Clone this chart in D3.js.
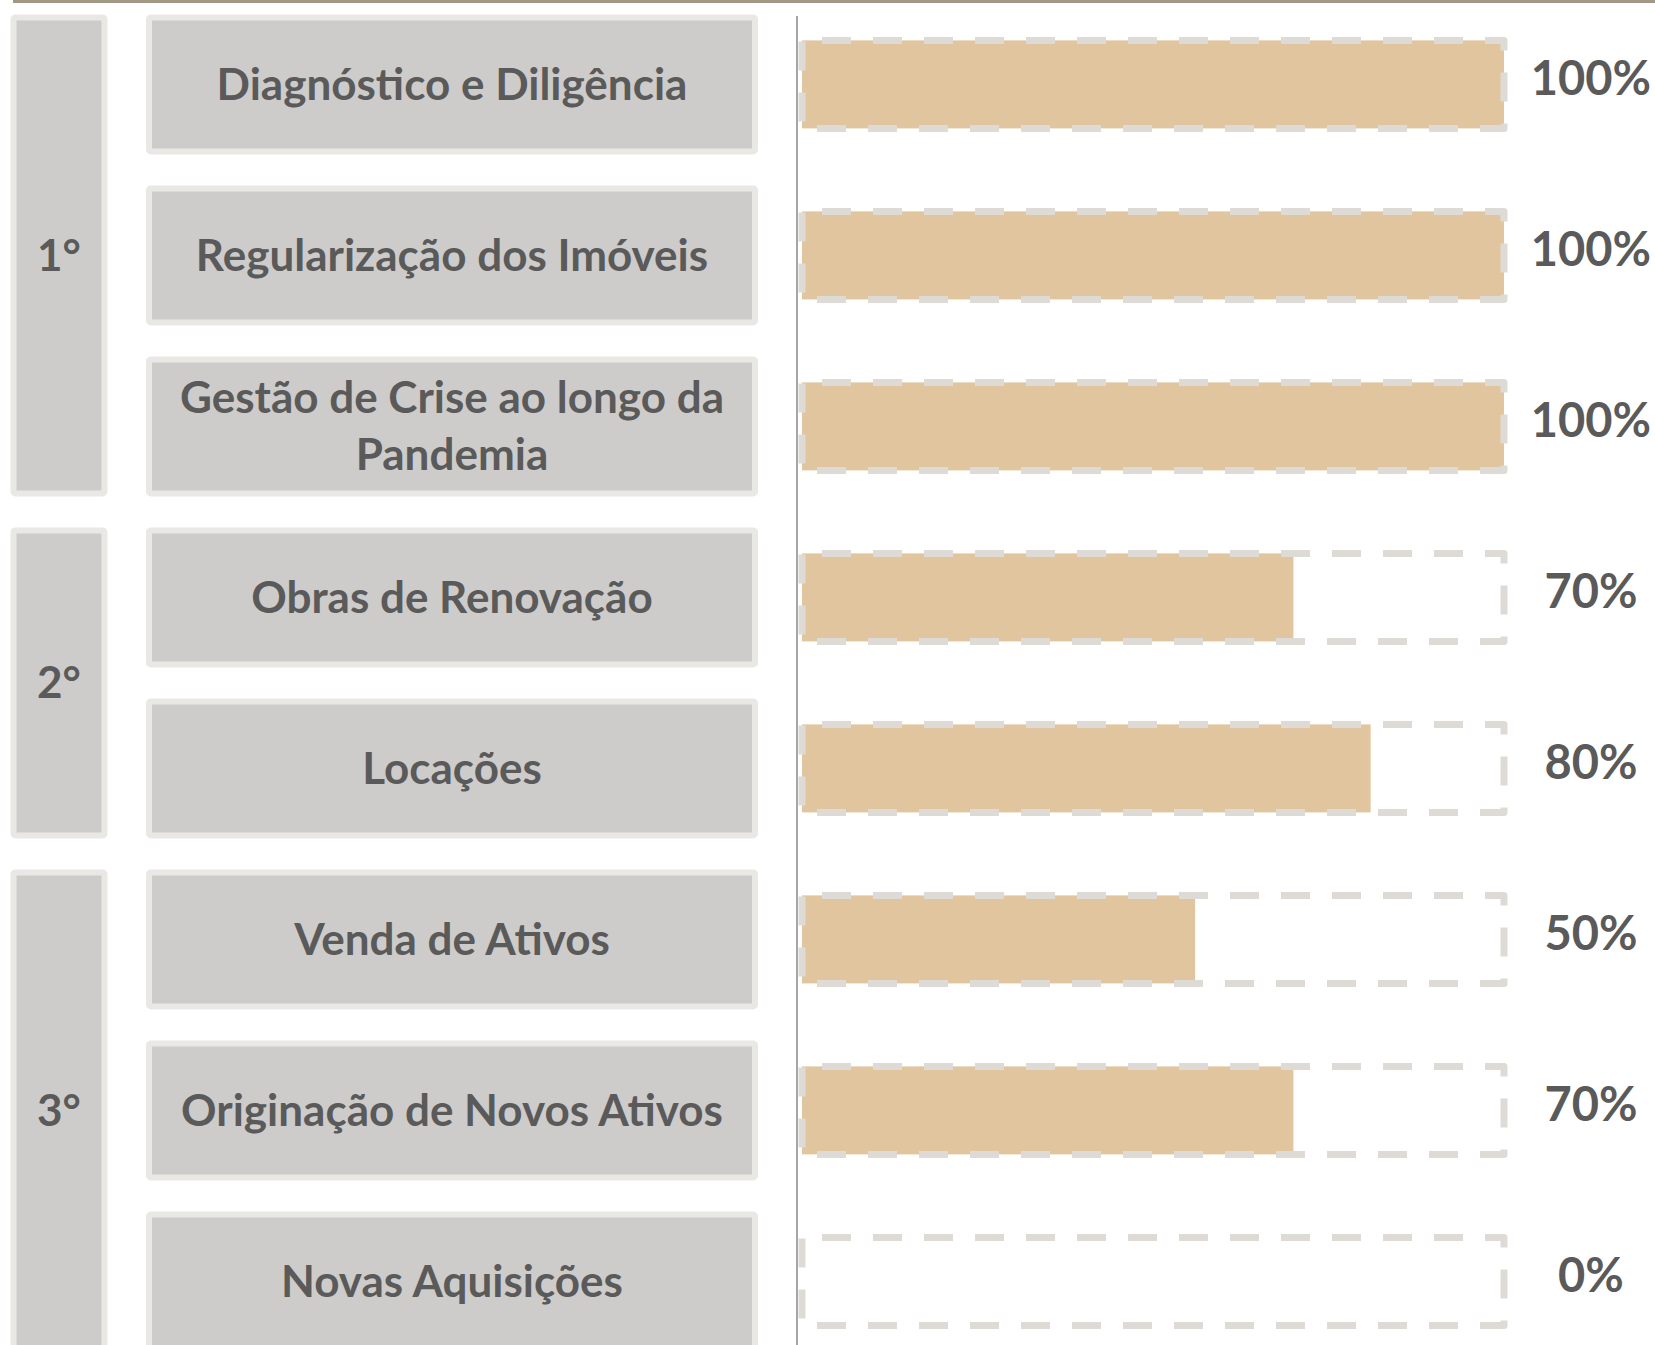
<!DOCTYPE html>
<html>
<head>
<meta charset="utf-8">
<script src="https://cdn.jsdelivr.net/npm/d3@7"></script>
<style>
  body { margin: 0; background: #fff; }
  svg { display: block; }
</style>
</head>
<body>
<svg id="chart"></svg>
<script>
let w = 1655;
let h = 1345;

// data
let categories = [
  "Diagnóstico e Diligência",
  "Regularização dos Imóveis",
  "Gestão de Crise ao longo da Pandemia",
  "Obras de Renovação",
  "Locações",
  "Venda de Ativos",
  "Originação de Novos Ativos",
  "Novas Aquisições"
];
// bar lengths as drawn (in %) and the labels printed next to them
let barValues = [100, 100, 100, 70, 81, 56, 70, 0];
let valueLabels = ["100%", "100%", "100%", "70%", "80%", "50%", "70%", "0%"];
let phases = ["1°", "2°", "3°"];
let phaseSizes = [3, 2, 3];

let textColor = "#5a5a5a";
let boxFill = "#cdcccb";
let boxBorder = "#e9e8e4";
let barFill = "#e1c59f";
let dashColor = "#dedbd6";
let font = "Lato, 'Open Sans', sans-serif";
let fontSize = 44;

let chart1 = d3.select("#chart")
  .attr("width", w)
  .attr("height", h);

let xScale = d3.scaleLinear()
  .domain([0, 100])
  .range([802, 1504]);

let yScale = d3.scalePoint()
  .domain(categories)
  .range([84.4, 84.4 + 7 * 171]);

let boxH = 140;
let barH = 88;

// top rule
chart1.append("rect")
  .attr("x", 13).attr("y", 0)
  .attr("width", w - 13).attr("height", 3)
  .attr("fill", "#a39884");

// phase boxes on the left
let start = 0;
let phaseData = phases.map((p, i) => {
  let first = categories[start];
  let last = categories[start + phaseSizes[i] - 1];
  start += phaseSizes[i];
  return { label: p, y0: yScale(first) - boxH / 2, y1: yScale(last) + boxH / 2 };
});

let phaseG = chart1.append("g").selectAll("g")
  .data(phaseData)
  .join("g");

phaseG.append("rect")
  .attr("x", 13.5)
  .attr("y", d => d.y0 + 3)
  .attr("width", 91)
  .attr("height", d => d.y1 - d.y0 - 6)
  .attr("fill", boxFill)
  .attr("stroke", boxBorder)
  .attr("stroke-width", 6)
  .attr("rx", 2);

phaseG.append("text")
  .attr("x", 59)
  .attr("y", d => (d.y0 + d.y1) / 2)
  .attr("dy", "0.35em")
  .attr("text-anchor", "middle")
  .attr("font-family", font)
  .attr("font-weight", "bold")
  .attr("font-size", fontSize)
  .attr("fill", textColor)
  .text(d => d.label);

// category boxes
let catG = chart1.append("g").selectAll("g")
  .data(categories)
  .join("g");

catG.append("rect")
  .attr("x", 149)
  .attr("y", d => yScale(d) - boxH / 2 + 3)
  .attr("width", 606)
  .attr("height", boxH - 6)
  .attr("fill", boxFill)
  .attr("stroke", boxBorder)
  .attr("stroke-width", 6)
  .attr("rx", 2);

catG.each(function (d) {
  let g = d3.select(this);
  let t = g.append("text")
    .attr("x", 452)
    .attr("text-anchor", "middle")
    .attr("font-family", font)
    .attr("font-weight", "bold")
    .attr("font-size", fontSize)
    .attr("fill", textColor);
  // simple word wrap to the box width
  let words = d.split(" ");
  let lines = [];
  let line = [];
  let probe = t.append("tspan");
  words.forEach(word => {
    line.push(word);
    probe.text(line.join(" "));
    if (probe.node().getComputedTextLength() > 580 && line.length > 1) {
      line.pop();
      lines.push(line.join(" "));
      line = [word];
    }
  });
  lines.push(line.join(" "));
  probe.remove();
  let lh = 57;
  let top = yScale(d) - (lines.length - 1) * lh / 2;
  t.selectAll("tspan")
    .data(lines)
    .join("tspan")
    .attr("x", 452)
    .attr("y", (l, i) => top + i * lh)
    .attr("dy", "0.35em")
    .text(l => l);
});

// axis line
chart1.append("line")
  .attr("x1", 797).attr("x2", 797)
  .attr("y1", 16).attr("y2", h)
  .attr("stroke", "#a6a6a6")
  .attr("stroke-width", 2);

// bars
let barG = chart1.append("g").selectAll("g")
  .data(categories)
  .join("g");

barG.append("rect")
  .attr("x", xScale(0))
  .attr("y", d => yScale(d) - barH / 2)
  .attr("width", (d, i) => xScale(barValues[i]) - xScale(0))
  .attr("height", barH)
  .attr("fill", barFill);

barG.append("rect")
  .attr("x", xScale(0))
  .attr("y", d => yScale(d) - barH / 2)
  .attr("width", xScale(100) - xScale(0))
  .attr("height", barH)
  .attr("fill", "none")
  .attr("stroke", dashColor)
  .attr("stroke-width", 7)
  .attr("stroke-linejoin", "round")
  .attr("stroke-dasharray", "29,22")
  .attr("stroke-dashoffset", -20);

barG.append("text")
  .attr("x", 1591)
  .attr("y", d => yScale(d) - 6)
  .attr("dy", "0.35em")
  .attr("text-anchor", "middle")
  .attr("font-family", font)
  .attr("font-weight", "bold")
  .attr("font-size", 47)
  .attr("fill", textColor)
  .text((d, i) => valueLabels[i]);
</script>
</body>
</html>
